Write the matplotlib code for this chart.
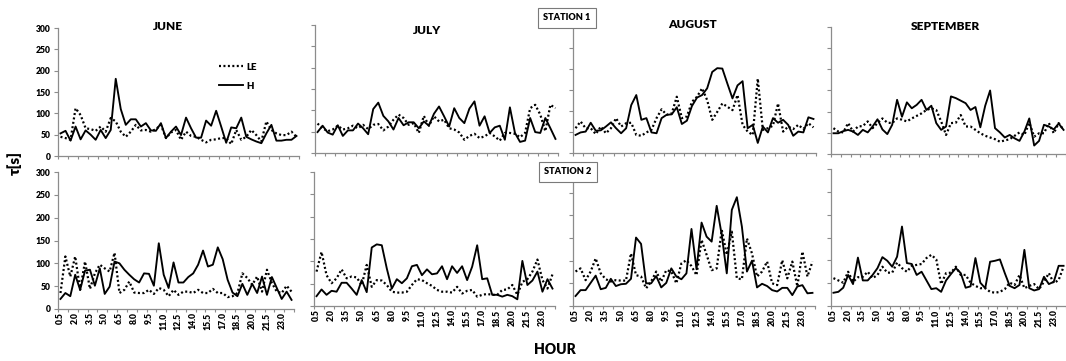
import matplotlib
matplotlib.use('Agg')
import matplotlib.pyplot as plt
from matplotlib.ticker import FixedLocator
import numpy as np

plt.rcParams['font.family'] = ['Lato', 'DejaVu Sans']
plt.rcParams['font.weight'] = 'bold'

# ---------------- data ----------------
hours = [0.5 + 0.5 * i for i in range(48)]
months = ['JUNE', 'JULY', 'AUGUST', 'SEPTEMBER']
stations = ['STATION 1', 'STATION 2']

# Station 1
s1_h_jun = [53, 59, 36, 69, 39, 60, 50, 38, 61, 42, 61, 181, 110, 73, 86, 86, 69, 77, 60, 59,
            77, 42, 57, 69, 49, 90, 65, 43, 43, 83, 71, 106, 69, 31, 67, 65, 90, 45, 39, 34,
            30, 53, 73, 36, 36, 38, 38, 47]
s1_le_jun = [45, 42, 38, 112, 96, 65, 63, 59, 69, 57, 89, 81, 57, 45, 57, 73, 60, 61, 57, 63,
             73, 42, 55, 61, 38, 57, 47, 45, 38, 32, 38, 39, 42, 42, 28, 61, 38, 45, 61, 49,
             34, 81, 61, 53, 49, 49, 57, 45]
s1_h_jul = [49, 64, 48, 43, 65, 40, 53, 53, 69, 58, 44, 103, 118, 87, 74, 55, 82, 65, 72, 72,
            58, 74, 64, 92, 109, 86, 62, 105, 82, 70, 104, 121, 64, 86, 47, 60, 64, 31, 107, 47,
            26, 29, 82, 49, 47, 82, 58, 33]
s1_le_jul = [69, 58, 51, 55, 64, 55, 58, 64, 58, 66, 56, 66, 68, 53, 62, 78, 90, 82, 66, 70,
             47, 87, 64, 86, 74, 78, 58, 55, 48, 31, 40, 45, 35, 39, 47, 39, 29, 47, 47, 45,
             37, 47, 105, 113, 90, 51, 113, 105]
s1_h_aug = [43, 49, 51, 72, 53, 54, 63, 73, 59, 47, 59, 114, 138, 79, 83, 49, 47, 83, 91, 92,
            109, 69, 77, 112, 132, 138, 154, 193, 202, 201, 165, 130, 161, 171, 59, 67, 24, 63, 49, 83,
            72, 79, 67, 41, 51, 49, 85, 81]
s1_le_aug = [59, 75, 59, 59, 45, 63, 47, 59, 83, 63, 71, 72, 43, 41, 49, 55, 83, 104, 91, 94,
             134, 83, 87, 122, 134, 154, 126, 79, 98, 118, 110, 102, 138, 67, 51, 43, 177, 55, 59, 65,
             118, 51, 63, 57, 67, 57, 71, 61]
s1_h_sep = [49, 49, 54, 57, 53, 45, 57, 51, 65, 82, 58, 47, 69, 128, 88, 122, 108, 116, 128, 104,
            114, 73, 57, 65, 136, 132, 126, 120, 104, 111, 63, 114, 150, 61, 51, 39, 45, 37, 31, 53,
            84, 20, 31, 69, 65, 58, 72, 57]
s1_le_sep = [61, 53, 51, 73, 53, 65, 66, 77, 61, 73, 84, 74, 73, 84, 81, 77, 84, 90, 96, 104,
             108, 104, 77, 45, 73, 74, 92, 65, 65, 57, 49, 43, 39, 35, 29, 32, 35, 43, 51, 45,
             74, 41, 49, 49, 73, 49, 73, 57]

# Station 2
s2_h_jun = [22, 35, 28, 75, 42, 84, 86, 51, 89, 33, 49, 104, 100, 86, 75, 65, 58, 78, 77, 51,
            144, 75, 46, 102, 58, 58, 70, 78, 97, 128, 93, 97, 135, 109, 64, 36, 28, 55, 31, 55,
            35, 71, 31, 70, 46, 22, 38, 20]
s2_le_jun = [35, 115, 71, 115, 42, 104, 44, 78, 97, 89, 82, 123, 35, 42, 60, 36, 35, 35, 42, 33,
             46, 42, 28, 42, 31, 38, 38, 35, 42, 35, 35, 44, 35, 35, 26, 28, 35, 78, 68, 53,
             71, 38, 86, 57, 38, 35, 51, 38]
s2_h_jul = [22, 37, 25, 34, 32, 52, 52, 39, 25, 58, 31, 131, 138, 136, 84, 39, 60, 51, 62, 89,
            92, 69, 82, 71, 73, 89, 60, 89, 74, 89, 58, 88, 136, 60, 62, 25, 25, 21, 25, 22,
            15, 101, 47, 57, 77, 32, 60, 39]
s2_le_jul = [77, 121, 69, 51, 62, 82, 62, 66, 64, 47, 92, 43, 58, 57, 47, 32, 30, 30, 32, 47,
             60, 58, 51, 45, 36, 32, 32, 30, 43, 28, 34, 36, 21, 25, 27, 25, 25, 36, 37, 47,
             25, 54, 60, 77, 104, 58, 39, 71]
s2_h_aug = [22, 35, 35, 51, 67, 37, 40, 60, 44, 48, 49, 60, 151, 137, 50, 50, 66, 41, 51, 83,
            65, 59, 72, 170, 81, 184, 153, 142, 221, 157, 72, 212, 240, 175, 76, 100, 41, 49, 44, 35,
            32, 40, 40, 24, 43, 46, 28, 29]
s2_le_aug = [76, 83, 57, 76, 105, 72, 59, 54, 57, 56, 56, 116, 68, 65, 39, 54, 76, 54, 79, 76,
             50, 94, 101, 88, 68, 146, 113, 79, 83, 168, 113, 164, 61, 59, 149, 116, 65, 76, 98, 50,
             46, 101, 61, 98, 43, 120, 65, 98]
s2_h_sep = [29, 31, 40, 68, 48, 106, 56, 56, 68, 83, 107, 99, 86, 108, 174, 94, 92, 68, 75, 56,
            37, 39, 31, 56, 70, 83, 72, 40, 43, 105, 51, 39, 97, 99, 102, 72, 44, 39, 46, 123,
            39, 34, 37, 64, 48, 53, 88, 88]
s2_le_sep = [61, 56, 51, 75, 53, 63, 64, 75, 61, 68, 86, 73, 73, 95, 83, 75, 88, 90, 92, 105,
             112, 102, 48, 72, 73, 86, 68, 68, 51, 44, 39, 39, 31, 29, 31, 37, 51, 46, 68, 39,
             44, 48, 37, 53, 72, 50, 57, 86]

series = [
    [(s1_le_jun, s1_h_jun), (s1_le_jul, s1_h_jul), (s1_le_aug, s1_h_aug), (s1_le_sep, s1_h_sep)],
    [(s2_le_jun, s2_h_jun), (s2_le_jul, s2_h_jul), (s2_le_aug, s2_h_aug), (s2_le_sep, s2_h_sep)],
]

# ---------------- layout ----------------
W, H = 1066, 361
fig = plt.figure(figsize=(W / 100, H / 100), dpi=100)

# pixel boxes: (x_left, x_right, y_top, y_bottom)
boxes = [
    [(58, 299, 28, 156), (315, 558, 25, 153), (573, 816, 27, 153), (831, 1066, 27, 154)],
    [(58, 294, 172, 309), (314, 555, 172, 306), (573, 815, 170, 306), (831, 1066, 169, 306)],
]

spine_col = '#8c8c8c'
label_idx = list(range(0, 48, 3))

for r in range(2):
    for c in range(4):
        x0, x1, yt, yb = boxes[r][c]
        ax = fig.add_axes([x0 / W, 1 - yb / H, (x1 - x0) / W, (yb - yt) / H])
        le, hh = series[r][c]
        ax.plot(hours, le, color='black', lw=1.6, linestyle=(0, (0.9, 1.1)), label='LE')
        ax.plot(hours, hh, color='black', lw=1.35, linestyle='-', label='H')
        ax.set_xlim(0.25, 24.25)
        ax.set_ylim(0, 300)
        for s in ['top', 'right']:
            ax.spines[s].set_visible(False)
        for s in ['left', 'bottom']:
            ax.spines[s].set_color(spine_col)
            ax.spines[s].set_linewidth(0.9)
        ax.set_yticks(np.arange(0, 301, 50))
        ax.tick_params(axis='y', direction='out', length=3.2, width=0.8, color=spine_col,
                       labelsize=6.2, pad=2)
        if c == 0:
            ax.set_yticklabels([str(v) for v in range(0, 301, 50)], fontweight='heavy')
        else:
            ax.set_yticklabels([])
        ax.xaxis.set_minor_locator(FixedLocator(np.arange(0.25, 24.3, 1.0)))
        ax.tick_params(axis='x', which='minor', direction='out', length=2.4, width=0.8,
                       color=spine_col)
        ax.set_xticks([hours[i] for i in label_idx])
        ax.tick_params(axis='x', which='major', length=0, labelsize=6.2, pad=2.5)
        if r == 1:
            ax.set_xticklabels(['%.1f' % hours[i] for i in label_idx], rotation=90,
                               fontweight='heavy')
        else:
            ax.set_xticklabels([])
        ax.patch.set_alpha(0)
        if r == 0 and c == 0:
            ax.legend(loc='upper left', bbox_to_anchor=((214 - x0) / (x1 - x0), 1 - (58 - yt) / (yb - yt)),
                      frameon=False, handlelength=2.5, labelspacing=1.0,
                      handletextpad=0.3, borderpad=0, prop={'weight': 'heavy', 'size': 7})

# month titles
title_pos = [(168, 27), (427, 30), (692, 25), (945, 27)]
for m, (tx, ty) in zip(months, title_pos):
    fig.text(tx / W, 1 - ty / H, m, ha='center', va='center', fontsize=8.6, fontweight='heavy')

# station boxes
for st, (cx, cy) in zip(stations, [(567, 18), (568, 172)]):
    fig.text(cx / W, 1 - cy / H, st, ha='center', va='center', fontsize=6.6, fontweight='heavy',
             bbox=dict(boxstyle='square,pad=0.6', facecolor='white', edgecolor='#7a7a7a', lw=0.8))

fig.text(15 / W, 1 - 163 / H, 'τ[s]', rotation=90, ha='center', va='center', fontsize=11,
         fontweight='heavy')
fig.text(555 / W, 1 - 349 / H, 'HOUR', ha='center', va='center', fontsize=10, fontweight='heavy')

fig.savefig('out.png', dpi=100)
